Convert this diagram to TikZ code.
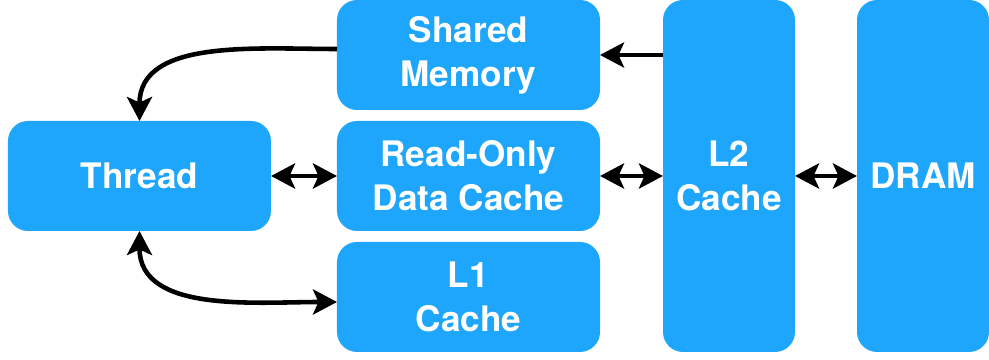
\documentclass[tikz,border=0pt]{standalone}
\usepackage{fontspec}
\setmainfont{TeX Gyre Heros}
\usetikzlibrary{positioning,arrows.meta}
\definecolor{boxblue}{RGB}{30,165,252}

\begin{document}
\begin{tikzpicture}[>={Stealth[length=4.8mm,width=5mm,inset=1.1mm]},line width=2.6pt,
  box/.style={fill=boxblue,rounded corners=4mm,minimum width=5.26cm,minimum height=2.2cm,
    inner sep=0pt,outer sep=0pt,text=white,align=center,font=\fontsize{20}{25}\selectfont\bfseries},
  tall/.style={box,minimum width=2.64cm,minimum height=7.04cm}]

  \useasboundingbox (-9.37,-3.68) rectangle (10.41,3.52);

  \node[box] (ro) at (0,0) {Read-Only\\Data Cache};
  \node[box] (shm) [above=0.22cm of ro] {Shared\\Memory};
  \node[box] (l1) [below=0.22cm of ro] {L1\\Cache};
  \node[box] (thread) [left=1.32cm of ro] {Thread};
  \node[tall] (l2) [right=1.26cm of ro] {L2\\Cache};
  \node[tall] (dram) [right=1.24cm of l2] {DRAM};

  \draw[->] ([yshift=1.2mm]shm.west) to[out=180,in=90] (thread.north);
  \draw[<->] (thread.south) to[out=-90,in=180] ([yshift=-1mm]l1.west);
  \draw[->] (l2.west |- shm.east) -- (shm.east);

  \draw[<->] (thread) -- (ro);
  \draw[<->] (ro) -- (l2);
  \draw[<->] (l2) -- (dram);
\end{tikzpicture}
\end{document}
